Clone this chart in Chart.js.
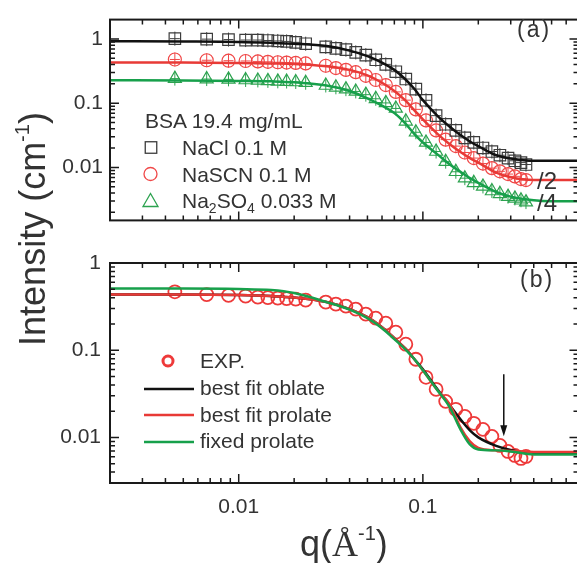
<!DOCTYPE html>
<html>
<head>
<meta charset="utf-8">
<title>BSA SAXS intensity</title>
<script src="https://cdn.jsdelivr.net/npm/chart.js@4.4.0/dist/chart.umd.min.js"></script>
<style>
  html, body { margin: 0; padding: 0; background: #fff; }
  body { width: 577px; height: 563px; overflow: hidden; position: relative;
         font-family: "Liberation Sans", Arial, Helvetica, sans-serif; color: #333; }
  canvas { position: absolute; left: 0; }
  #chartA { top: 0; }
  #chartB { top: 240px; }
  .txt { position: absolute; white-space: nowrap; line-height: 1; }
  .leg { font-size: 21px; }
  .panel { font-size: 23px; letter-spacing: 2px; }
  .div { font-size: 24px; }
  sub { font-size: 14px; vertical-align: -5px; line-height: 0; }
  sup { font-size: 20px; vertical-align: 14px; line-height: 0; }
  #ytitle { font-size: 36px; width: 300px; height: 36px; text-align: center;
            left: -117.5px; top: 211px; transform: rotate(-90deg); }
  #ytitle sup { font-size: 20px; vertical-align: 16px; }
  #xtitle { font-size: 36px; left: 300px; top: 525.5px; }
  #xtitle .ang { font-family: "Liberation Serif", "Times New Roman", serif; }
  #xtitle sup { font-size: 20px; vertical-align: 16px; }
  #marks { position: absolute; left: 0; top: 0; }
</style>
</head>
<body>

<canvas id="chartA" width="580" height="240"></canvas>
<canvas id="chartB" width="580" height="323"></canvas>

<svg id="marks" width="577" height="563">
  <!-- legend (a) symbols -->
  <rect x="145.25" y="141.75" width="11.5" height="11.5" fill="none" stroke="#3c3c3c" stroke-width="1.3"/>
  <circle cx="150.5" cy="174" r="6.5" fill="none" stroke="#f04848" stroke-width="1.3"/>
  <polygon points="150.5,193.5 143,206.5 158,206.5" fill="none" stroke="#2ca24f" stroke-width="1.3"/>
  <!-- legend (b) symbols -->
  <circle cx="168" cy="361" r="5" fill="none" stroke="#ee3a3a" stroke-width="3"/>
  <line x1="144" y1="389" x2="194" y2="389" stroke="#111" stroke-width="2.5"/>
  <line x1="144" y1="415" x2="194" y2="415" stroke="#e83a36" stroke-width="2.5"/>
  <line x1="144" y1="442" x2="194" y2="442" stroke="#17a04b" stroke-width="2.5"/>
</svg>

<div class="txt leg" style="left:145px; top:110.2px;">BSA 19.4 mg/mL</div>
<div class="txt leg" style="left:182px; top:137.2px;">NaCl 0.1 M</div>
<div class="txt leg" style="left:182px; top:163.7px;">NaSCN 0.1 M</div>
<div class="txt leg" style="left:182px; top:190.2px;">Na<sub>2</sub>SO<sub>4</sub> 0.033 M</div>

<div class="txt leg" style="left:200px; top:350.2px;">EXP.</div>
<div class="txt leg" style="left:200px; top:377.2px;">best fit oblate</div>
<div class="txt leg" style="left:200px; top:403.7px;">best fit prolate</div>
<div class="txt leg" style="left:200px; top:430.2px;">fixed prolate</div>

<div class="txt panel" style="left:517px; top:18px;">(a)</div>
<div class="txt panel" style="left:520px; top:267.5px;">(b)</div>
<div class="txt div" style="left:537px; top:168.7px;">/2</div>
<div class="txt div" style="left:537px; top:190.7px;">/4</div>

<div class="txt" id="ytitle">Intensity (cm<sup>-1</sup>)</div>
<div class="txt" id="xtitle">q(<span class="ang">Å</span><sup>-1</sup>)</div>

<script>
// ===========================
// DATA
// ===========================

// measured q values (1/Å), shared by all three salts and by panel (b)
const qExp = [0.0045, 0.0067, 0.0088, 0.0109, 0.0127, 0.0144, 0.0163, 0.0182, 0.0204, 0.0231,
              0.0297, 0.0337, 0.0382, 0.0432, 0.049, 0.0555, 0.0629, 0.0713, 0.0808, 0.0916,
              0.104, 0.118, 0.133, 0.151, 0.169, 0.189, 0.212, 0.237, 0.262, 0.29,
              0.316, 0.341, 0.363];

// panel (a) measured intensities (cm^-1)
const naclI = [1.01, 0.993, 0.977, 0.961, 0.961, 0.946, 0.930, 0.915, 0.885, 0.843,
               0.751, 0.715, 0.681, 0.617, 0.559, 0.474, 0.402, 0.309, 0.238, 0.166,
               0.111, 0.064, 0.047, 0.0377, 0.0289, 0.0245, 0.0201, 0.0177, 0.0155, 0.014,
               0.0127, 0.0119, 0.0111];
const nascnI = [0.479, 0.466, 0.4585, 0.454, 0.4467, 0.4408, 0.4336, 0.4295, 0.4238, 0.4155,
                0.3826, 0.3524, 0.330, 0.304, 0.2665, 0.2298, 0.1918, 0.1499, 0.1115, 0.0802,
                0.054, 0.0377, 0.0271, 0.0215, 0.0171, 0.014, 0.0115, 0.00977, 0.0087, 0.00789,
                0.00727, 0.00659, 0.00637];
const na2so4I = [0.2415, 0.2375, 0.2351, 0.2298, 0.2261, 0.2224, 0.2188, 0.2174, 0.2138, 0.2083,
                 0.1887, 0.1767, 0.1654, 0.1524, 0.1358, 0.1171, 0.101, 0.0829, 0.0523, 0.0353,
                 0.0245, 0.0177, 0.0123, 0.00857, 0.00681, 0.00577, 0.00506, 0.0043, 0.00389, 0.00352,
                 0.0033, 0.00309, 0.00289];

// q grid of the fitted curves
const qFit = [0.002, 0.005, 0.01, 0.015, 0.02, 0.03, 0.04, 0.05, 0.06, 0.07, 0.08, 0.09,
              0.1, 0.12, 0.14, 0.16, 0.18, 0.2, 0.25, 0.3, 0.4, 0.5, 0.7];

// panel (a) fits
const naclFit = [0.924, 0.915, 0.900, 0.871, 0.843, 0.776, 0.658, 0.541, 0.429, 0.330, 0.238, 0.166,
                 0.1115, 0.0637, 0.043, 0.0319, 0.0254, 0.0215, 0.0155, 0.0138, 0.0127, 0.0127, 0.0127];
const nascnFit = [0.4295, 0.4295, 0.4226, 0.4155, 0.4088, 0.3763, 0.330, 0.271, 0.2083, 0.155, 0.1115, 0.0776,
                  0.0559, 0.0334, 0.023, 0.0174, 0.014, 0.0119, 0.0083, 0.00703, 0.00637, 0.00637, 0.00637];
const na2so4Fit = [0.2276, 0.2261, 0.2224, 0.2188, 0.2117, 0.1887, 0.1549, 0.119, 0.0915, 0.0703, 0.049, 0.033,
                   0.0245, 0.016, 0.0111, 0.00857, 0.00681, 0.00577, 0.00415, 0.00352, 0.00309, 0.00299, 0.00299];

// panel (b) experiment and fits
const expI = [0.4677, 0.4345, 0.4253, 0.4175, 0.4067, 0.4013, 0.396, 0.3908, 0.3857, 0.3756,
              0.3562, 0.3379, 0.3204, 0.296, 0.2594, 0.2332, 0.2043, 0.161, 0.1172, 0.0788,
              0.0489, 0.0356, 0.0259, 0.021, 0.0174, 0.0145, 0.01236, 0.01027, 0.00809, 0.0069,
              0.00621, 0.00574, 0.00605];
const oblateFit = [0.4345, 0.4345, 0.4288, 0.4175, 0.4013, 0.3562, 0.296, 0.2394, 0.1838, 0.1374, 0.1054, 0.0788,
                   0.0605, 0.0356, 0.0233, 0.0161, 0.01203, 0.01, 0.00799, 0.00718, 0.00655, 0.00655, 0.00655];
const prolateFit = [0.4345, 0.4345, 0.4288, 0.4175, 0.4013, 0.3562, 0.296, 0.2394, 0.1838, 0.1374, 0.1054, 0.0788,
                    0.0589, 0.0347, 0.0239, 0.013, 0.009, 0.00757, 0.0071, 0.007, 0.00681, 0.00678, 0.00678];
const fixedFit = [0.509, 0.509, 0.5026, 0.4895, 0.4519, 0.3562, 0.292, 0.2332, 0.179, 0.1338, 0.1027, 0.0788,
                  0.0589, 0.0347, 0.0221, 0.01236, 0.0083, 0.00728, 0.0071, 0.0069, 0.00638, 0.00638, 0.00638];

// arrow in panel (b)
const arrowQ = 0.275;
const arrowFrom = 0.053;
const arrowTo = 0.0103;

// axes
const xRange = [0.002, 0.7];
const yRangeA = [0.0015, 2];
const yRangeB = [0.003, 1];
const xTickValues = [0.01, 0.1];
const xTickLabels = ['0.01', '0.1'];
const yTickValues = [0.01, 0.1, 1];
const yTickLabels = ['0.01', '0.1', '1'];

// ===========================
// HELPERS
// ===========================

function pairs(xs, ys) {
    return xs.map((x, i) => ({ x: x, y: ys[i] }));
}

// 1..9 x 10^n steps inside an axis range, for the inward tick marks
function logSteps(min, max) {
    const out = [];
    for (let e = Math.floor(Math.log10(min)); e <= Math.ceil(Math.log10(max)); e++) {
        for (let m = 1; m <= 9; m++) {
            const v = m * Math.pow(10, e);
            if (v > min * 1.0001 && v < max * 0.9999) out.push({ v: v, major: m === 1 });
        }
    }
    return out;
}

function fitLine(data, color) {
    return {
        data: data,
        showLine: true,
        borderColor: color,
        borderWidth: 2.5,
        pointRadius: 0,
        cubicInterpolationMode: 'monotone',
        fill: false
    };
}

function markers(data, color, style, radius, width, cross) {
    return {
        data: data,
        showLine: false,
        pointStyle: style,
        pointRadius: radius,
        pointBorderColor: color,
        pointBackgroundColor: 'rgba(0,0,0,0)',
        pointBorderWidth: width,
        borderColor: color,
        errCross: cross
    };
}

// ===========================
// PLUGINS
// ===========================

// closed box with inward ticks on all four sides
const frameTicks = {
    id: 'frameTicks',
    afterDraw(chart) {
        const { ctx, chartArea: a, scales: { x, y } } = chart;
        ctx.save();
        ctx.strokeStyle = '#1a1a1a';
        ctx.lineWidth = 1.5;
        ctx.beginPath();
        logSteps(x.min, x.max).forEach(t => {
            const px = x.getPixelForValue(t.v);
            const len = t.major ? 9 : 5;
            ctx.moveTo(px, a.bottom); ctx.lineTo(px, a.bottom - len);
            ctx.moveTo(px, a.top); ctx.lineTo(px, a.top + len);
        });
        logSteps(y.min, y.max).forEach(t => {
            const py = y.getPixelForValue(t.v);
            const len = t.major ? 9 : 5;
            ctx.moveTo(a.left, py); ctx.lineTo(a.left + len, py);
            ctx.moveTo(a.right, py); ctx.lineTo(a.right - len, py);
        });
        ctx.stroke();
        ctx.lineWidth = 2;
        ctx.strokeRect(a.left, a.top, a.right - a.left, a.bottom - a.top);
        ctx.restore();
    }
};

// small error-bar crosses through the panel (a) markers
const errorCross = {
    id: 'errorCross',
    afterDatasetDraw(chart, args) {
        const ds = chart.data.datasets[args.index];
        if (!ds.errCross) return;
        const ctx = chart.ctx;
        ctx.save();
        ctx.strokeStyle = ds.borderColor;
        ctx.lineWidth = 1;
        ctx.beginPath();
        args.meta.data.forEach(pt => {
            ctx.moveTo(pt.x, pt.y - 7); ctx.lineTo(pt.x, pt.y + 7);
            ctx.moveTo(pt.x - 5, pt.y); ctx.lineTo(pt.x + 5, pt.y);
        });
        ctx.stroke();
        ctx.restore();
    }
};

// downward arrow in panel (b)
const arrowMark = {
    id: 'arrowMark',
    afterDatasetsDraw(chart, args, opts) {
        if (!opts.q) return;
        const { ctx, scales: { x, y } } = chart;
        const px = x.getPixelForValue(opts.q);
        const y0 = y.getPixelForValue(opts.from);
        const y1 = y.getPixelForValue(opts.to);
        ctx.save();
        ctx.strokeStyle = '#111';
        ctx.fillStyle = '#111';
        ctx.lineWidth = 1.5;
        ctx.beginPath();
        ctx.moveTo(px, y0); ctx.lineTo(px, y1 - 8);
        ctx.stroke();
        ctx.beginPath();
        ctx.moveTo(px, y1);
        ctx.lineTo(px - 3.5, y1 - 11);
        ctx.lineTo(px + 3.5, y1 - 11);
        ctx.closePath();
        ctx.fill();
        ctx.restore();
    }
};

// ===========================
// CHARTS
// ===========================

Chart.defaults.font.family = '"Liberation Sans", Arial, Helvetica, sans-serif';
Chart.defaults.font.size = 21;
Chart.defaults.color = '#333';

function axes(yRange, showX, xHeight, yPad) {
    return {
        x: {
            type: 'logarithmic',
            min: xRange[0],
            max: xRange[1],
            afterBuildTicks: s => { s.ticks = xTickValues.map(v => ({ value: v })); },
            afterFit: s => { s.height = xHeight; },
            ticks: {
                display: showX,
                autoSkip: false,
                maxRotation: 0,
                padding: 12,
                callback: (v, i) => xTickLabels[i]
            },
            grid: { display: false, drawTicks: false },
            border: { display: false }
        },
        y: {
            type: 'logarithmic',
            min: yRange[0],
            max: yRange[1],
            afterBuildTicks: s => { s.ticks = yTickValues.map(v => ({ value: v })); },
            afterFit: s => { s.width = 110; },
            ticks: {
                autoSkip: false,
                padding: yPad,
                callback: (v, i) => yTickLabels[i]
            },
            grid: { display: false, drawTicks: false },
            border: { display: false }
        }
    };
}

function baseOptions(top, yRange, showX, xHeight, yPad) {
    return {
        responsive: false,
        animation: false,
        events: [],
        layout: { padding: { top: top, right: 1.5, bottom: 0, left: 0 }, autoPadding: false },
        plugins: { legend: { display: false }, tooltip: { enabled: false } },
        scales: axes(yRange, showX, xHeight, yPad)
    };
}

const optsA = baseOptions(13, yRangeA, false, 7.5, 7);
const chartA = new Chart(document.getElementById('chartA'), {
    type: 'scatter',
    data: {
        datasets: [
            fitLine(pairs(qFit, naclFit), '#111111'),
            fitLine(pairs(qFit, nascnFit), '#e83a36'),
            fitLine(pairs(qFit, na2so4Fit), '#17a04b'),
            markers(pairs(qExp, naclI), '#3c3c3c', 'rect', 8.1, 1.2, true),
            markers(pairs(qExp, nascnI), '#f04848', 'circle', 6.5, 1.2, true),
            markers(pairs(qExp, na2so4I), '#2ca24f', 'triangle', 7.5, 1.2, true)
        ]
    },
    options: optsA,
    plugins: [frameTicks, errorCross]
});

const optsB = baseOptions(23, yRangeB, true, 80, 9);
optsB.plugins.arrowMark = { q: arrowQ, from: arrowFrom, to: arrowTo };
const chartB = new Chart(document.getElementById('chartB'), {
    type: 'scatter',
    data: {
        datasets: [
            fitLine(pairs(qFit, fixedFit), '#17a04b'),
            fitLine(pairs(qFit, prolateFit), '#e83a36'),
            fitLine(pairs(qFit, oblateFit), '#111111'),
            markers(pairs(qExp, expI), '#ee3a3a', 'circle', 6.5, 1.8, false)
        ]
    },
    options: optsB,
    plugins: [frameTicks, errorCross, arrowMark]
});
</script>
</body>
</html>
